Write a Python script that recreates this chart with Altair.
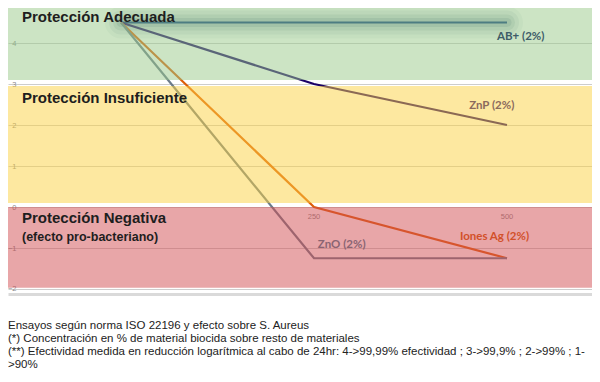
import altair as alt
import pandas as pd

# ---------------- data ----------------
x_conc = [0, 250, 500]
ab_vals = [4.5, 4.5, 4.5]
znp_vals = [4.5, 3.0, 2.0]
ag_vals = [4.5, 0.0, -1.25]
zno_vals = [4.5, -1.25, -1.25]
series_names = ["AB+ (2%)", "ZnP (2%)", "Iones Ag (2%)", "ZnO (2%)"]
line_colors = ["#00307a", "#1b0067", "#dd5d09", "#6b7b8a"]
label_colors = ["#3e5c68", "#8c6a5c", "#d2502a", "#8a6472"]
label_x = [487, 451, 439, 255]
label_y = [4.15, 2.46, -0.73, -0.93]

band_names = ["Protección Adecuada", "Protección Insuficiente", "Protección Negativa"]
band_lo = [3.1, 0.1, -1.97]
band_hi = [5.3, 2.95, 0.0]
band_colors = ["#99c989", "#fbd141", "#d14d51"]
band_label_y = [4.63, 2.65, -0.27]
band_sub = ["(efecto pro-bacteriano)"]
band_sub_y = [-0.73]

y_ticks = [-2, -1, 0, 1, 2, 3, 4, 5]
x_ticks = [250, 500]

footnote = [
    "Ensayos según norma ISO 22196 y efecto sobre S. Aureus",
    "(*) Concentración en % de material biocida sobre resto de materiales",
    "(**) Efectividad medida en reducción logarítmica al cabo de 24hr: 4->99,99% efectividad ; 3->99,9% ; 2->99% ; 1-",
    ">90%",
]

# ---------------- tables ----------------
rows = []
for name, vals in zip(series_names, [ab_vals, znp_vals, ag_vals, zno_vals]):
    for xv, yv in zip(x_conc, vals):
        rows.append({"serie": name, "x": xv, "y": yv})
lines_df = pd.DataFrame(rows)
glow_df = lines_df[lines_df["serie"] == series_names[0]]

bands_df = pd.DataFrame({"band": band_names, "lo": band_lo, "hi": band_hi, "ly": band_label_y})
sub_df = pd.DataFrame({"t": band_sub, "ly": band_sub_y})
lab_df = pd.DataFrame({"serie": series_names, "x": label_x, "y": label_y})
xt_df = pd.DataFrame({"x": x_ticks, "y": [0] * len(x_ticks), "t": [str(v) for v in x_ticks]})

# ---------------- scales / axes ----------------
xscale = alt.Scale(domain=[-146.4, 610.1], nice=False, zero=False)
yscale = alt.Scale(domain=[-2.122, 4.854], nice=False, zero=False)
xaxis = alt.Axis(orient="bottom", labels=False, ticks=False, grid=False, title=None,
                 domain=True, domainColor="#dadada", domainWidth=3)
yaxis = alt.Axis(orient="left", values=y_ticks, title=None, ticks=False, domain=False,
                 grid=True, gridColor="#cdcdcd", gridWidth=1, offset=-11, labelPadding=3,
                 labelFontSize=7.5, labelColor="#8a8a8a", labelFont="Liberation Sans")


def X(f):
    return alt.X(f, type="quantitative", scale=xscale, axis=xaxis)


def Y(f):
    return alt.Y(f, type="quantitative", scale=yscale, axis=yaxis)


glows = []
for w, op in [(32, 0.06), (24, 0.08), (16, 0.11), (9, 0.15)]:
    glows.append(
        alt.Chart(glow_df).mark_line(strokeWidth=w, strokeCap="round", opacity=op).encode(
            x=X("x"), y=Y("y"), stroke=alt.value("#0b3d55"))
    )

lines = alt.Chart(lines_df).mark_line(strokeWidth=2.2).encode(
    x=X("x"), y=Y("y"),
    stroke=alt.Stroke("serie:N", scale=alt.Scale(domain=series_names, range=line_colors), legend=None),
    detail="serie:N",
)

xt = alt.Chart(xt_df).mark_text(fontSize=7.5, color="#8a8a8a", dy=10, font="Liberation Sans").encode(
    x=X("x"), y=Y("y"), text="t:N")

bands = alt.Chart(bands_df).mark_rect(opacity=0.5, clip=True).encode(
    x=alt.value(0), x2=alt.value(587),
    y=Y("lo"), y2="hi:Q",
    fill=alt.Fill("band:N", scale=alt.Scale(domain=band_names, range=band_colors), legend=None),
)

band_labels = alt.Chart(bands_df).mark_text(
    align="left", baseline="middle", fontSize=15, fontWeight="bold",
    font="Liberation Sans", color="#1e1e1e").encode(
    x=alt.value(14), y=Y("ly"), text="band:N")

sub_labels = alt.Chart(sub_df).mark_text(
    align="left", baseline="middle", fontSize=12.5, fontWeight="bold",
    font="Liberation Sans", color="#1e1e1e").encode(
    x=alt.value(14), y=Y("ly"), text="t:N")

line_labels = alt.Chart(lab_df).mark_text(
    align="left", baseline="middle", fontSize=11.5, fontWeight="bold", font="Lato").encode(
    x=X("x"), y=Y("y"), text="serie:N",
    color=alt.Color("serie:N", scale=alt.Scale(domain=series_names, range=label_colors), legend=None),
)

chart = alt.layer(*glows, lines, xt, bands, band_labels, sub_labels, line_labels).properties(
    width=584, height=286,
    padding={"left": 0, "top": 0, "right": 0, "bottom": 78},
    autosize=alt.AutoSizeParams(type="none"),
    title=alt.TitleParams(text=footnote, orient="bottom", anchor="start", frame="group",
                          fontSize=11.5, fontWeight="normal", font="Liberation Sans",
                          color="#222222", offset=26, lineHeight=13),
).configure_view(strokeWidth=0)

chart.save("out.html", embed_options={"renderer": "svg", "actions": False})
